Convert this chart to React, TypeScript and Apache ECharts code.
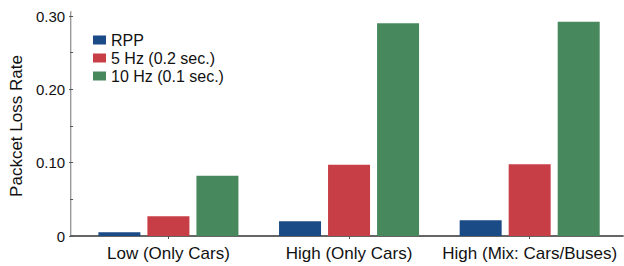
import React, { useEffect, useRef } from "react";
import * as echarts from "echarts";

const categories = ["Low (Only Cars)", "High (Only Cars)", "High (Mix: Cars/Buses)"];
const seriesNames = ["RPP", "5 Hz (0.2 sec.)", "10 Hz (0.1 sec.)"];
const rppValues = [0.005, 0.02, 0.0215];
const hz5Values = [0.027, 0.097, 0.098];
const hz10Values = [0.082, 0.29, 0.292];
const colors = ["#1b4b86", "#c83e46", "#47885d"];
const yTicks = { min: 0, max: 0.3, interval: 0.1 };

const FONT = "'Liberation Sans', Arial, Helvetica, sans-serif";

export default function App() {
  const ref = useRef<HTMLDivElement>(null);
  useEffect(() => {
    if (!ref.current) return;
    const chart = echarts.init(ref.current, undefined, { renderer: "svg" });
    const hidden = { show: false };
    const allValues = [rppValues, hz5Values, hz10Values];
    chart.setOption({
      animation: false,
      backgroundColor: "#ffffff",
      textStyle: { fontFamily: FONT },
      grid: [
        { left: 71, right: 1, top: 12, bottom: 30, containLabel: false },
        { left: 76, right: 4, top: 16, bottom: 30, containLabel: false },
      ],
      legend: {
        orient: "vertical",
        left: 88,
        top: 27,
        itemWidth: 13,
        itemHeight: 9,
        itemGap: 2,
        icon: "rect",
        data: seriesNames,
        textStyle: { fontSize: 16, color: "#111", fontFamily: FONT, lineHeight: 16 },
      },
      xAxis: [
        {
          type: "value", gridIndex: 0, position: "bottom", min: 0, max: 1,
          axisLine: { show: true, lineStyle: { color: "#777", width: 1.5 } },
          axisTick: hidden, axisLabel: hidden, splitLine: hidden,
        },
        {
          type: "value", gridIndex: 0, position: "top", min: 0, max: 1,
          axisLine: { show: true, lineStyle: { color: "#555", width: 1.5 } },
          axisTick: hidden, axisLabel: hidden, splitLine: hidden,
        },
        {
          type: "category", gridIndex: 1, data: categories,
          axisLine: hidden,
          axisTick: { show: true, alignWithLabel: true, length: 3, lineStyle: { color: "#555" } },
          axisLabel: { interval: 0, fontSize: 17, color: "#111", margin: 9, fontFamily: FONT },
          splitLine: hidden,
        },
      ],
      yAxis: [
        {
          type: "value", gridIndex: 0, position: "left", min: 0, max: 1,
          axisLine: { show: true, lineStyle: { color: "#777", width: 1.5 } },
          axisTick: hidden, axisLabel: hidden, splitLine: hidden,
        },
        {
          type: "value", gridIndex: 0, position: "right", min: 0, max: 1,
          axisLine: { show: true, lineStyle: { color: "#d8d8d8", width: 1 } },
          axisTick: hidden, axisLabel: hidden, splitLine: hidden,
        },
        {
          type: "value", gridIndex: 1, position: "left", offset: 5,
          min: yTicks.min, max: yTicks.max, interval: yTicks.interval,
          name: "Packcet Loss Rate",
          nameLocation: "middle",
          nameGap: 47,
          nameTextStyle: { fontSize: 17, color: "#111", fontFamily: FONT },
          axisLine: hidden,
          axisTick: { show: true, length: 4, lineStyle: { color: "#555" } },
          minorTick: { show: true, splitNumber: 2, length: 3, lineStyle: { color: "#555" } },
          axisLabel: {
            fontSize: 15, color: "#111", margin: 8, fontFamily: FONT,
            formatter: (v: number) => (v === 0 ? "0" : v.toFixed(2)),
          },
          splitLine: hidden,
        },
      ],
      series: seriesNames.map((name, i) => ({
        name,
        type: "bar",
        xAxisIndex: 2,
        yAxisIndex: 2,
        data: allValues[i],
        barWidth: 42,
        barGap: "16.7%",
        itemStyle: { color: colors[i] },
      })),
    });
    return () => chart.dispose();
  }, []);
  return (
    <div
      ref={ref}
      style={{ position: "fixed", left: 0, top: 0, width: 624, height: 266 }}
    />
  );
}
